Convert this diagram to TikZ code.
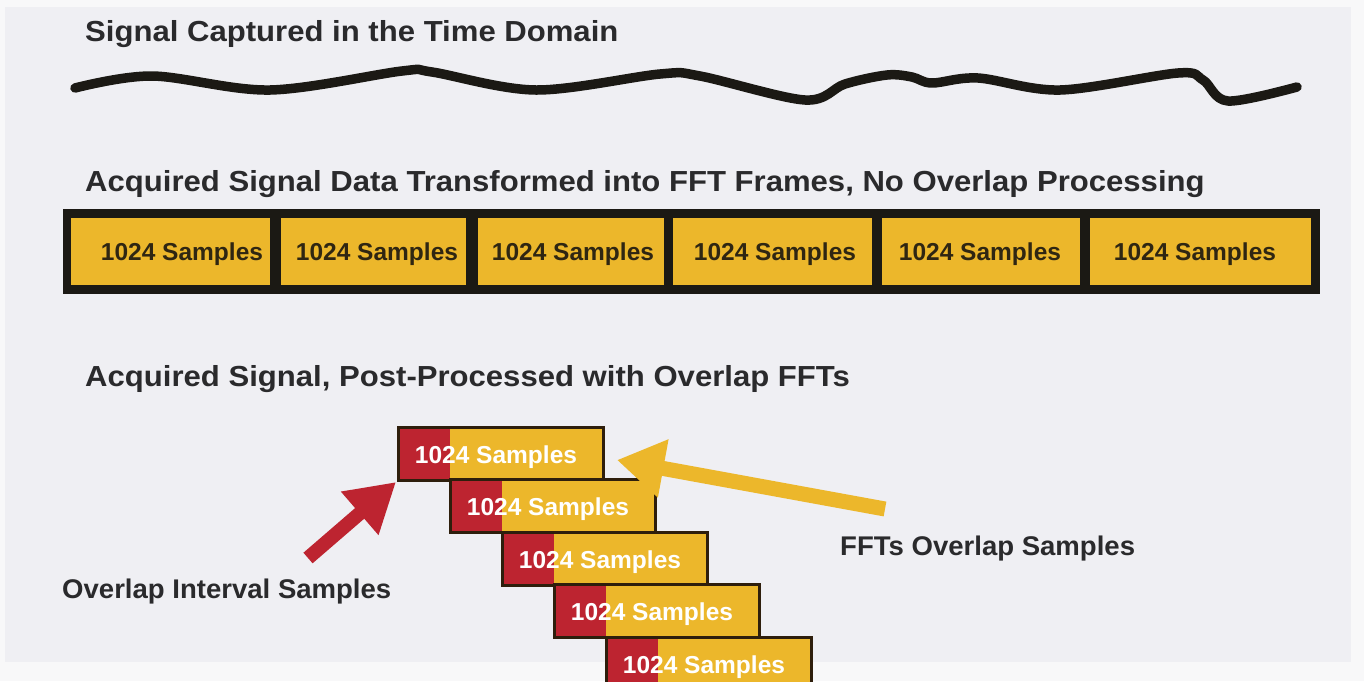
\documentclass[tikz,border=0pt]{standalone}
\usepackage{fontspec}
\setmainfont{Liberation Sans}
\newfontfamily\headsans{Liberation Sans}[FakeStretch=1.072]
\newfontfamily\notesans{Liberation Sans}[FakeStretch=1.02]
\usetikzlibrary{arrows.meta}
\definecolor{panel}{HTML}{EFEFF3}
\definecolor{outerbg}{HTML}{F8F8F9}
\definecolor{ink}{HTML}{2A2A2C}
\definecolor{gold}{HTML}{ECB72B}
\definecolor{crimson}{HTML}{BD2430}
\definecolor{framebk}{HTML}{1B1914}
\definecolor{boxedge}{HTML}{2E1E0C}
\definecolor{celltext}{HTML}{2F2612}

\begin{document}
\begin{tikzpicture}[x=1pt,y=-1pt,
  title/.style={anchor=base west, inner sep=0pt, text=ink,
    font=\headsans\fontsize{29}{34}\selectfont\bfseries},
  callout/.style={anchor=base west, inner sep=0pt, text=ink,
    font=\notesans\fontsize{27}{32}\selectfont\bfseries},
  celllabel/.style={anchor=base, inner sep=0pt, text=celltext,
    font=\fontsize{24.5}{29}\selectfont\bfseries},
  framebox/.style={draw=boxedge, line width=3pt, fill=gold, outer sep=0pt,
    minimum width=205pt, minimum height=53pt, anchor=north west, inner sep=0pt},
  boxlabel/.style={anchor=base, inner sep=0pt, text=white,
    font=\fontsize{24.5}{29}\selectfont\bfseries},
  fatarrow/.style={line width=#1, line cap=butt}
]
\useasboundingbox (0,0) rectangle (1364,681);
\clip (0,0) rectangle (1364,681);

% backdrop and panel
\fill[outerbg] (0,0) rectangle (1364,681);
\fill[panel] (5,7) rectangle (1351,662);

% time-domain signal
\node[title] (t1) at (85,41) {Signal Captured in the Time Domain};
\draw[framebk, line width=9.5pt, line cap=round, line join=round]
  plot[smooth, tension=0.55] coordinates {
    (75,88) (152,76) (270,90) (402,71) (432,72) (536,90) (660,74) (700,76)
    (805,100) (845,84) (887,75) (912,77) (932,83) (978,78) (1060,90)
    (1178,73) (1203,80) (1228,101) (1297,87)};

% non-overlapping FFT frames
\node[title] (t2) at (85,191) {Acquired Signal Data Transformed into FFT Frames, No Overlap Processing};
\fill[framebk] (63,209) rectangle (1320,294);
\fill[gold] (71,218) rectangle (270,285);
\fill[gold] (281,218) rectangle (466,285);
\fill[gold] (478,218) rectangle (664,285);
\fill[gold] (673,218) rectangle (872,285);
\fill[gold] (882,218) rectangle (1080,285);
\fill[gold] (1090,218) rectangle (1311,285);
\node[celllabel] (s1) at (182,260) {1024 Samples};
\node[celllabel] (s2) at (377,260) {1024 Samples};
\node[celllabel] (s3) at (573,260) {1024 Samples};
\node[celllabel] (s4) at (775,260) {1024 Samples};
\node[celllabel] (s5) at (980,260) {1024 Samples};
\node[celllabel] (s6) at (1195,260) {1024 Samples};

% overlapping FFT frames
\node[title] (t3) at (85,386) {Acquired Signal, Post-Processed with Overlap FFTs};
\foreach \k/\n in {0/1,1/2,2/3,3/4,4/5} {
  \node[framebox] (b\n) at ({398+52*\k},{427+52.5*\k}) {};
  \fill[crimson] (b\n.north west) rectangle ([xshift=52pt]b\n.south west);
  \draw[boxedge, line width=3pt] (b\n.north west) rectangle (b\n.south east);
  \node[boxlabel] (l\n) at ([xshift=98pt, yshift=-36pt]b\n.north west) {1024 Samples};
}

% callouts
\coordinate (rtail) at (308,558);
\coordinate (rtip) at (396,482);
\draw[crimson, fatarrow=14pt, -{Triangle[length=48pt,width=54pt]}] (rtail) -- (rtip);
\node[callout] (c1) at (62,598) {Overlap Interval Samples};

\coordinate (ytail) at (885,509);
\coordinate (ytip) at (617,460);
\draw[gold, fatarrow=15pt, -{Triangle[length=47pt,width=56pt]}] (ytail) -- (ytip);
\node[callout] (c2) at (840,555) {FFTs Overlap Samples};
\end{tikzpicture}
\end{document}
